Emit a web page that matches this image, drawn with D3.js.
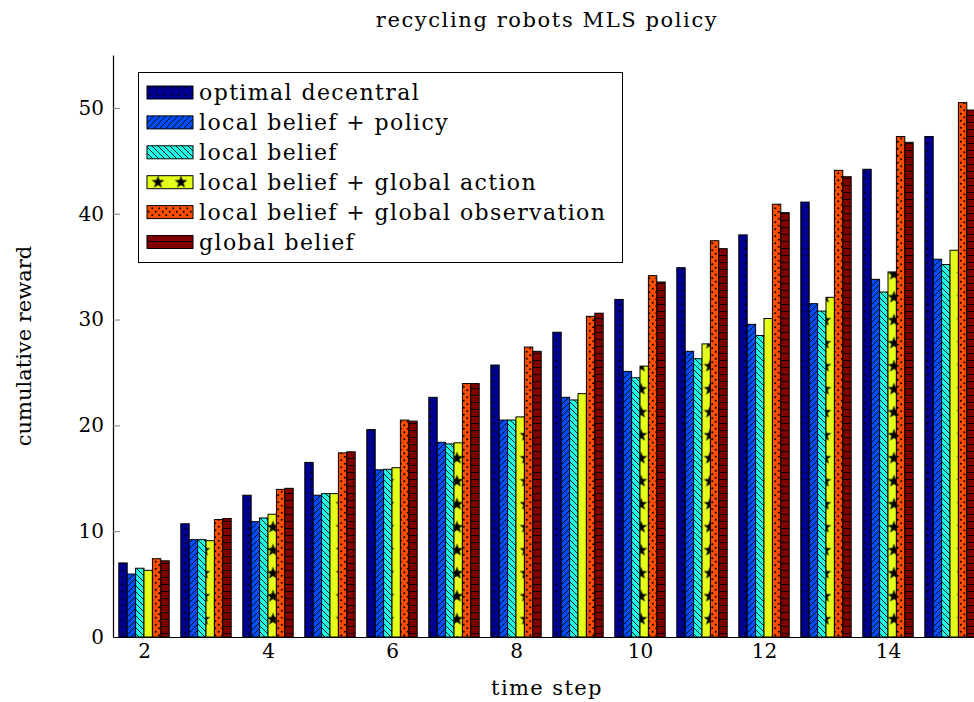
<!DOCTYPE html>
<html>
<head>
<meta charset="utf-8">
<script src="https://cdn.jsdelivr.net/npm/d3@7"></script>
<style>
  body { margin: 0; background: #fff; }
  svg { display: block; }
</style>
</head>
<body>
<div id="chart"></div>
<script>
// ── Data ─────────────────────────────────────
const steps = [2, 3, 4, 5, 6, 7, 8, 9, 10, 11, 12, 13, 14, 15];
const seriesNames = [
  "optimal decentral",
  "local belief + policy",
  "local belief",
  "local belief + global action",
  "local belief + global observation",
  "global belief"
];
const optimalDecentral        = [7.0, 10.7, 13.4, 16.5, 19.6, 22.65, 25.7, 28.8, 31.9, 34.9, 38.0, 41.1, 44.2, 47.3];
const localBeliefPolicy       = [5.95, 9.2, 10.9, 13.4, 15.8, 18.4, 20.5, 22.65, 25.1, 27.0, 29.55, 31.5, 33.8, 35.7];
const localBelief             = [6.5, 9.2, 11.25, 13.55, 15.85, 18.25, 20.5, 22.4, 24.5, 26.3, 28.5, 30.8, 32.6, 35.2];
const localBeliefGlobalAction = [6.3, 9.1, 11.6, 13.55, 16.0, 18.35, 20.8, 23.0, 25.6, 27.7, 30.1, 32.1, 34.5, 36.55];
const localBeliefGlobalObs    = [7.4, 11.1, 13.95, 17.4, 20.5, 23.95, 27.4, 30.3, 34.15, 37.45, 40.9, 44.1, 47.3, 50.5];
const globalBelief            = [7.2, 11.2, 14.05, 17.5, 20.4, 23.95, 27.0, 30.6, 33.55, 36.7, 40.1, 43.5, 46.75, 49.8];
const yTicks = [0, 10, 20, 30, 40, 50];
const xTicks = [2, 4, 6, 8, 10, 12, 14];

const seriesValues = [optimalDecentral, localBeliefPolicy, localBelief,
                      localBeliefGlobalAction, localBeliefGlobalObs, globalBelief];
const COLORS = ["#000090", "#004dff", "#1affe6", "#e6ff1a", "#ff4d00", "#800000"];
const FONT = "'DejaVu Serif', serif";

const W = 974, H = 702;
const svg = d3.select("#chart").append("svg").attr("width", W).attr("height", H);
const defs = svg.append("defs");

// ── Patterns ─────────────────────────────────
function pat(id, w, h, color) {
  const p = defs.append("pattern").attr("id", id)
    .attr("patternUnits", "userSpaceOnUse").attr("width", w).attr("height", h);
  p.append("rect").attr("width", w).attr("height", h).attr("fill", color);
  return p;
}
// dots
pat("p0", 7, 7, COLORS[0]).append("circle")
  .attr("cx", 3.5).attr("cy", 3.5).attr("r", 1.1).attr("fill", "#000");
// north east lines
pat("p1", 6, 6, COLORS[1]).append("path")
  .attr("d", "M0,6L6,0M-1,1L1,-1M5,7L7,5").attr("stroke", "#000").attr("stroke-width", 0.9);
// north west lines
pat("p2", 6, 6, COLORS[2]).append("path")
  .attr("d", "M0,0L6,6M-1,5L1,7M5,-1L7,1").attr("stroke", "#000").attr("stroke-width", 0.9);
// five pointed stars
const starPts = d3.range(10).map(i => {
  const r = i % 2 ? 2.7 : 6.8, a = -Math.PI / 2 + i * Math.PI / 5;
  return [11.5 + r * Math.cos(a), 11.5 + r * Math.sin(a)];
});
pat("p3", 23, 23, COLORS[3]).attr("patternTransform", "translate(8.5,9.7)")
  .append("path").attr("d", "M" + starPts.join("L") + "Z").attr("fill", "#000");
// crosshatch dots
const p4 = pat("p4", 7, 7, COLORS[4]);
[[1.75, 1.75], [5.25, 5.25]].forEach(([cx, cy]) =>
  p4.append("circle").attr("cx", cx).attr("cy", cy).attr("r", 1).attr("fill", "#000"));
// horizontal lines
pat("p5", 8, 7, COLORS[5]).append("path")
  .attr("d", "M0,3.5H8").attr("stroke", "#000").attr("stroke-width", 0.9);

// ── Scales ───────────────────────────────────
const x = d3.scaleLinear().domain([1.5, 15.5]).range([113, 981]);
const y = d3.scaleLinear().domain([0, 55]).range([637, 55]);
const barW = 8.4;
const inner = d3.scaleBand().domain(d3.range(seriesNames.length))
  .range([-3 * barW, 3 * barW]);

// ── Bars ─────────────────────────────────────
seriesValues.forEach((vals, si) => {
  svg.append("g").selectAll("rect").data(vals).join("rect")
    .attr("x", (d, i) => x(steps[i]) + inner(si))
    .attr("y", d => y(d))
    .attr("width", inner.bandwidth())
    .attr("height", d => y(0) - y(d))
    .attr("fill", `url(#p${si})`)
    .attr("stroke", "#000").attr("stroke-width", 1);
});

// ── Axes ─────────────────────────────────────
const yAxis = svg.append("g").attr("transform", `translate(${x.range()[0]},0)`)
  .call(d3.axisLeft(y).tickValues(yTicks).tickSize(0).tickPadding(9));
yAxis.select(".domain").attr("stroke", "#000").attr("stroke-width", 1.2);
yAxis.selectAll(".tick text").attr("font-family", FONT).attr("font-size", "20px").attr("fill", "#000");
yAxis.selectAll(".tick").append("line").attr("x1", 0).attr("x2", 7)
  .attr("stroke", "#808080").attr("stroke-width", 1);

const xAxis = svg.append("g").attr("transform", `translate(0,${y(0)})`)
  .call(d3.axisBottom(x).tickValues(xTicks).tickSize(0).tickPadding(7));
xAxis.select(".domain").attr("stroke", "#000").attr("stroke-width", 1.2);
xAxis.selectAll(".tick text").attr("font-family", FONT).attr("font-size", "20px").attr("fill", "#000");

// ── Labels ───────────────────────────────────
const midX = (x.range()[0] + x.range()[1]) / 2;
svg.append("text").attr("x", midX).attr("y", 27).attr("text-anchor", "middle")
  .attr("font-family", FONT).attr("font-size", "21px").attr("letter-spacing", "1.6px")
  .text("recycling robots MLS policy");
svg.append("text").attr("x", midX).attr("y", 695).attr("text-anchor", "middle")
  .attr("font-family", FONT).attr("font-size", "21px").attr("letter-spacing", "1.4px")
  .text("time step");
svg.append("text").attr("transform", `translate(31,${(y(0) + y(55)) / 2}) rotate(-90)`)
  .attr("text-anchor", "middle")
  .attr("font-family", FONT).attr("font-size", "21px")
  .text("cumulative reward");

// ── Legend ───────────────────────────────────
const legend = svg.append("g");
legend.append("rect").attr("x", 138.5).attr("y", 72.5).attr("width", 484).attr("height", 190)
  .attr("fill", "#fff").attr("stroke", "#000").attr("stroke-width", 1);
seriesNames.forEach((name, i) => {
  const cy = 92.5 + i * 29.9;
  legend.append("rect").attr("x", 147).attr("y", cy - 6.5).attr("width", 46).attr("height", 13)
    .attr("fill", `url(#p${i})`).attr("stroke", "#000").attr("stroke-width", 1);
  legend.append("text").attr("x", 199).attr("y", cy).attr("dy", "0.35em")
    .attr("font-family", FONT).attr("font-size", "22px").attr("letter-spacing", "1.4px")
    .text(name);
});
</script>
</body>
</html>
